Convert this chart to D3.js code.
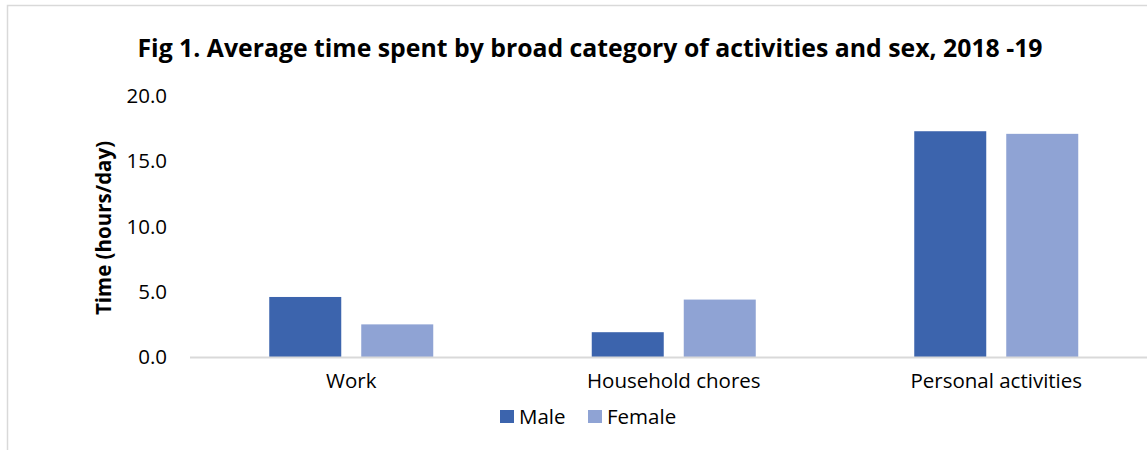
<!DOCTYPE html>
<html><head><meta charset="utf-8">
<script src="https://cdn.jsdelivr.net/npm/d3@7"></script>
<style>body{margin:0;background:#fff}svg{display:block}</style>
</head><body>
<script>
const categories = ["Work", "Household chores", "Personal activities"];
const seriesNames = ["Male", "Female"];
const maleValues = [4.6, 1.9, 17.3];
const femaleValues = [2.5, 4.4, 17.1];
const yTicks = [0, 5, 10, 15, 20];
const colors = ["#3C64AD", "#8FA3D4"];

const W = 1147, H = 450;
const svg = d3.select("body").append("svg").attr("width", W).attr("height", H);
const font = "'Open Sans', sans-serif";
const fs = 20.5;

svg.append("path").attr("d", `M7.5,450 V5.5 H${W}`).attr("fill","none").attr("stroke","#d9d9d9").attr("stroke-width",1.5);

const x0 = d3.scaleBand().domain(categories).range([190, 1157.5]).paddingInner(0).paddingOuter(0);
const y = d3.scaleLinear().domain([0, 20]).range([357, 96]);
const groupW = 164;
const x1s = d3.scaleBand().domain(seriesNames).range([0, groupW]).paddingInner(20/92);

const data = categories.map((c,i)=>({cat:c, vals:[maleValues[i], femaleValues[i]]}));
const g = svg.append("g");
data.forEach(d=>{
  const gx = x0(d.cat) + (x0.bandwidth()-groupW)/2;
  g.selectAll(null).data(d.vals).enter().append("rect")
    .attr("x",(v,i)=>gx + x1s(seriesNames[i]))
    .attr("y",v=>y(v))
    .attr("width",x1s.bandwidth())
    .attr("height",v=>y(0)-y(v))
    .attr("fill",(v,i)=>colors[i]);
});

svg.append("line").attr("x1",190).attr("x2",W).attr("y1",y(0)+0.5).attr("y2",y(0)+0.5).attr("stroke","#d9d9d9").attr("stroke-width",2);

const yAxis = svg.append("g").attr("transform","translate(167,0)")
  .call(d3.axisLeft(y).tickValues(yTicks).tickFormat(d3.format(".1f")).tickSize(0).tickPadding(0));
yAxis.select(".domain").remove();
yAxis.selectAll("text").attr("font-family",font).attr("font-size",fs).attr("fill","#000");

const xAxis = svg.append("g").attr("transform",`translate(0,${y(0)})`)
  .call(d3.axisBottom(x0).tickSize(0).tickPadding(16));
xAxis.select(".domain").remove();
xAxis.selectAll("text").attr("font-family",font).attr("font-size",fs).attr("fill","#000");

svg.append("text").attr("x",590).attr("y",57).attr("text-anchor","middle")
  .attr("font-family",font).attr("font-weight","bold").attr("font-size",24.8).attr("fill","#000")
  .text("Fig 1. Average time spent by broad category of activities and sex, 2018 -19");

svg.append("text").attr("transform","translate(111,228) rotate(-90)").attr("text-anchor","middle")
  .attr("font-family",font).attr("font-weight","bold").attr("font-size",fs).attr("fill","#000")
  .text("Time (hours/day)");

const legX = [500, 588];
const leg = svg.append("g");
seriesNames.forEach((s,i)=>{
  leg.append("rect").attr("x",legX[i]).attr("y",410).attr("width",14).attr("height",13).attr("fill",colors[i]);
  leg.append("text").attr("x",legX[i]+19).attr("y",424).attr("font-family",font).attr("font-size",fs).attr("fill","#000").text(s);
});
</script>
</body></html>
